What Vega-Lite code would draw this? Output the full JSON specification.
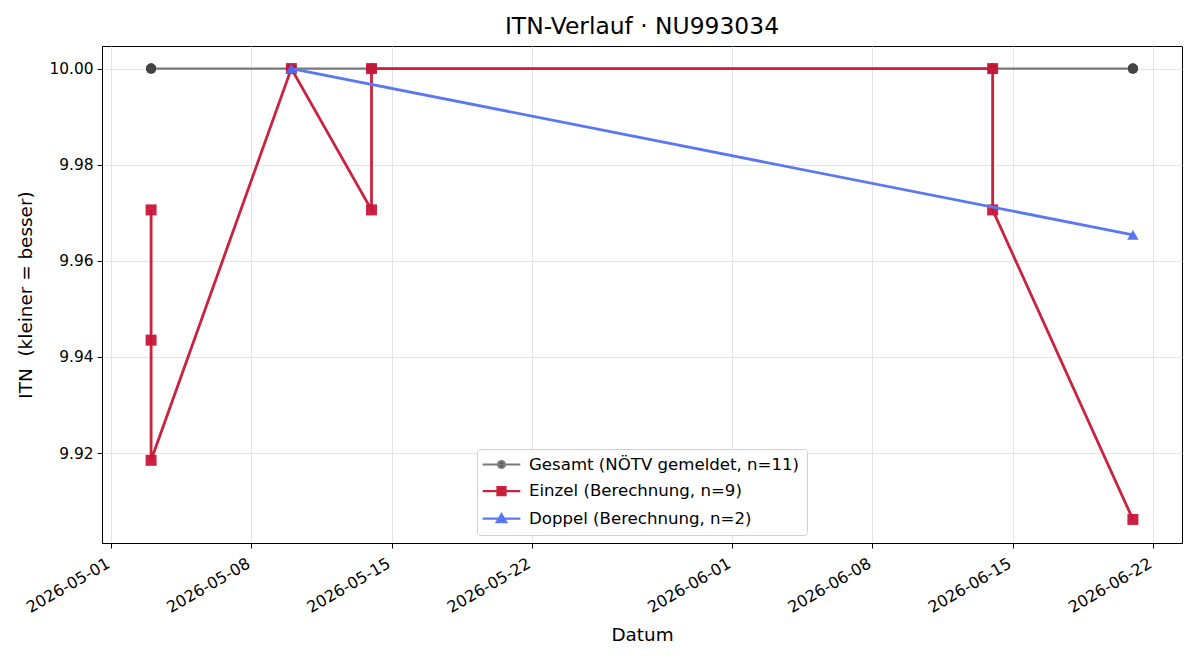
{
  "$schema": "https://vega.github.io/schema/vega-lite/v6.json",
  "width": 1080,
  "height": 497,
  "autosize": {"type": "none"},
  "padding": {"left": 102, "top": 46, "right": 18, "bottom": 117},
  "background": "white",
  "title": {"text": "ITN-Verlauf · NU993034", "font": "DejaVu Sans", "fontSize": 23.4, "fontWeight": "normal", "color": "black", "anchor": "middle", "offset": 7},
  "config": {
    "view": {"stroke": "black", "strokeWidth": 1},
    "font": "DejaVu Sans",
    "axis": {"domainColor": "black", "tickColor": "black", "tickSize": 5, "labelColor": "black", "titleColor": "black", "labelFont": "DejaVu Sans", "titleFont": "DejaVu Sans", "labelFontSize": 15.4, "titleFontSize": 18.4, "titleFontWeight": "normal", "gridColor": "#e4e4e4", "gridWidth": 1}
  },
  "data": {"values": [
    {"series": "Gesamt (NÖTV gemeldet, n=11)", "date": "2026-05-03", "itn": 10.0, "ord": 1},
    {"series": "Gesamt (NÖTV gemeldet, n=11)", "date": "2026-05-03", "itn": 10.0, "ord": 2},
    {"series": "Gesamt (NÖTV gemeldet, n=11)", "date": "2026-05-03", "itn": 10.0, "ord": 3},
    {"series": "Gesamt (NÖTV gemeldet, n=11)", "date": "2026-05-10", "itn": 10.0, "ord": 4},
    {"series": "Gesamt (NÖTV gemeldet, n=11)", "date": "2026-05-14", "itn": 10.0, "ord": 5},
    {"series": "Gesamt (NÖTV gemeldet, n=11)", "date": "2026-05-14", "itn": 10.0, "ord": 6},
    {"series": "Gesamt (NÖTV gemeldet, n=11)", "date": "2026-06-14", "itn": 10.0, "ord": 7},
    {"series": "Gesamt (NÖTV gemeldet, n=11)", "date": "2026-06-14", "itn": 10.0, "ord": 8},
    {"series": "Gesamt (NÖTV gemeldet, n=11)", "date": "2026-06-21", "itn": 10.0, "ord": 9},
    {"series": "Gesamt (NÖTV gemeldet, n=11)", "date": "2026-06-21", "itn": 10.0, "ord": 10},
    {"series": "Gesamt (NÖTV gemeldet, n=11)", "date": "2026-06-21", "itn": 10.0, "ord": 11},
    {"series": "Einzel (Berechnung, n=9)", "date": "2026-05-03", "itn": 9.9706, "ord": 1},
    {"series": "Einzel (Berechnung, n=9)", "date": "2026-05-03", "itn": 9.9435, "ord": 2},
    {"series": "Einzel (Berechnung, n=9)", "date": "2026-05-03", "itn": 9.9185, "ord": 3},
    {"series": "Einzel (Berechnung, n=9)", "date": "2026-05-10", "itn": 10.0, "ord": 4},
    {"series": "Einzel (Berechnung, n=9)", "date": "2026-05-14", "itn": 9.9706, "ord": 5},
    {"series": "Einzel (Berechnung, n=9)", "date": "2026-05-14", "itn": 10.0, "ord": 6},
    {"series": "Einzel (Berechnung, n=9)", "date": "2026-06-14", "itn": 10.0, "ord": 7},
    {"series": "Einzel (Berechnung, n=9)", "date": "2026-06-14", "itn": 9.9706, "ord": 8},
    {"series": "Einzel (Berechnung, n=9)", "date": "2026-06-21", "itn": 9.9062, "ord": 9},
    {"series": "Doppel (Berechnung, n=2)", "date": "2026-05-10", "itn": 10.0, "ord": 1},
    {"series": "Doppel (Berechnung, n=2)", "date": "2026-06-21", "itn": 9.9654, "ord": 2}
  ]},
  "encoding": {
    "x": {"field": "date", "type": "temporal",
      "scale": {"type": "utc", "domain": [{"year": 2026, "month": 4, "date": 30, "hours": 13, "minutes": 12, "utc": true}, {"year": 2026, "month": 6, "date": 23, "hours": 10, "minutes": 48, "utc": true}]},
      "axis": {"title": "Datum", "labelExpr": "utcFormat(datum.value, '%Y-%m-%d')", "labelFontSize": 16, "labelAngle": -30, "labelAlign": "right", "labelBaseline": "top", "labelOffset": -7, "labelPadding": 7, "titlePadding": 10, "grid": true,
        "values": [
          {"year": 2026, "month": 5, "date": 1, "utc": true},
          {"year": 2026, "month": 5, "date": 8, "utc": true},
          {"year": 2026, "month": 5, "date": 15, "utc": true},
          {"year": 2026, "month": 5, "date": 22, "utc": true},
          {"year": 2026, "month": 6, "date": 1, "utc": true},
          {"year": 2026, "month": 6, "date": 8, "utc": true},
          {"year": 2026, "month": 6, "date": 15, "utc": true},
          {"year": 2026, "month": 6, "date": 22, "utc": true}
        ]}},
    "y": {"field": "itn", "type": "quantitative",
      "scale": {"domain": [9.9013, 10.0047], "nice": false, "zero": false},
      "axis": {"title": "ITN\u00a0\u00a0(kleiner = besser)", "values": [9.92, 9.94, 9.96, 9.98, 10.0], "format": ".2f", "labelPadding": 4, "titlePadding": 13, "grid": true}},
    "order": {"field": "ord", "type": "quantitative"}
  },
  "layer": [
    {"transform": [{"filter": "datum.series === 'Gesamt (NÖTV gemeldet, n=11)'"}],
     "mark": {"type": "line", "strokeWidth": 2.2},
     "encoding": {"color": {"field": "series", "type": "nominal",
        "scale": {"domain": ["Gesamt (NÖTV gemeldet, n=11)", "Einzel (Berechnung, n=9)", "Doppel (Berechnung, n=2)"], "range": ["#7a7a7a", "#c9233f", "#5b78f2"]},
        "legend": {"title": null, "orient": "none", "legendX": 375, "legendY": 403, "padding": 7, "fillColor": "white", "strokeColor": "#d0d0d0", "cornerRadius": 3,
          "labelFont": "DejaVu Sans", "labelFontSize": 16.6, "labelColor": "black", "labelLimit": 500, "rowPadding": 8.6, "symbolSize": 196, "symbolOffset": 9, "labelOffset": 19, "symbolStrokeWidth": 2,
          "encode": {"symbols": {"update": {
            "shape": {"signal": "datum.index === 0 ? 'M-2.69,0H2.69M-0.48,0A0.48,0.48 0 1,0 0.48,0A0.48,0.48 0 1,0 -0.48,0Z' : datum.index === 1 ? 'M-2.69,0H2.69M-0.58,-0.58H0.58V0.58H-0.58Z' : 'M-2.69,0H2.69M0,-0.64L0.68,0.5H-0.68Z'"},
            "fill": {"signal": "datum.index === 0 ? '#444444' : datum.index === 1 ? '#c8163a' : '#4f6ef0'"},
            "stroke": {"signal": "datum.index === 0 ? '#7a7a7a' : datum.index === 1 ? '#c9233f' : '#5b78f2'"},
            "strokeWidth": {"value": 2.2},
            "opacity": {"value": 1}
          }}}}}}},
    {"transform": [{"filter": "datum.series === 'Gesamt (NÖTV gemeldet, n=11)'"}],
     "mark": {"type": "point", "shape": "circle", "filled": true, "size": 100, "color": "#444444", "opacity": 1}},
    {"transform": [{"filter": "datum.series === 'Einzel (Berechnung, n=9)'"}],
     "mark": {"type": "line", "strokeWidth": 2.8},
     "encoding": {"color": {"field": "series", "type": "nominal"}}},
    {"transform": [{"filter": "datum.series === 'Einzel (Berechnung, n=9)'"}],
     "mark": {"type": "point", "shape": "square", "filled": true, "size": 121, "color": "#c8163a", "opacity": 0.95}},
    {"transform": [{"filter": "datum.series === 'Doppel (Berechnung, n=2)'"}],
     "mark": {"type": "line", "strokeWidth": 2.8},
     "encoding": {"color": {"field": "series", "type": "nominal"}}},
    {"transform": [{"filter": "datum.series === 'Doppel (Berechnung, n=2)'"}],
     "mark": {"type": "point", "shape": "triangle-up", "filled": true, "size": 130, "color": "#4f6ef0", "opacity": 0.95}}
  ]
}
